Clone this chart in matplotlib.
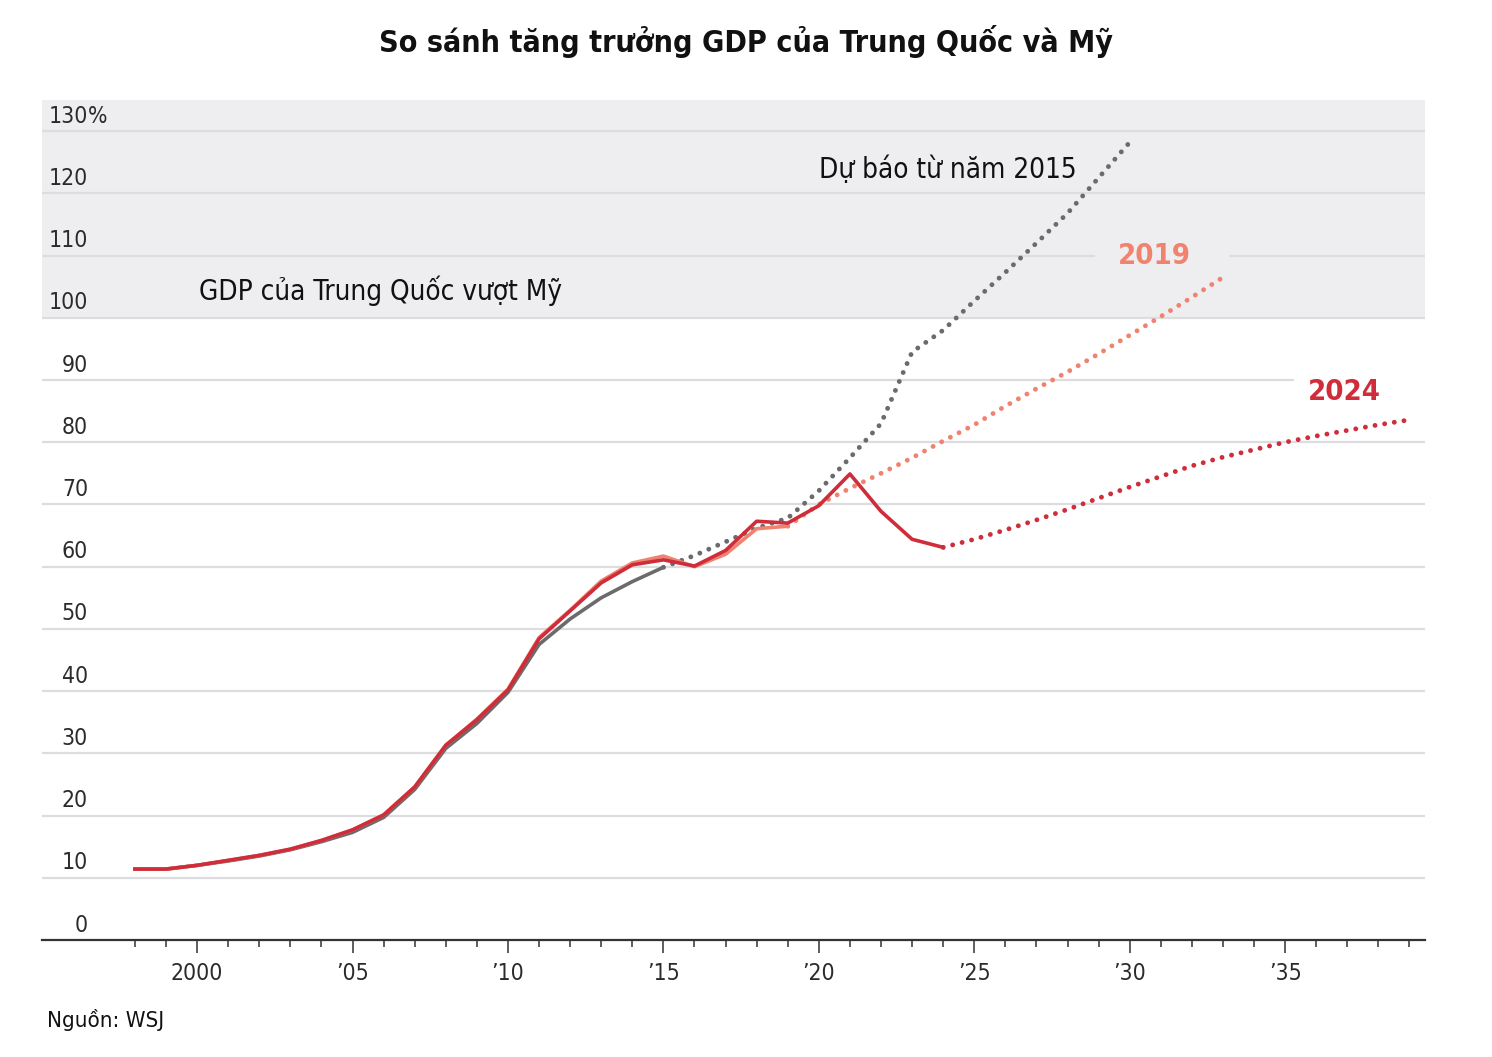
import matplotlib
matplotlib.use("Agg")
import matplotlib.pyplot as plt
from matplotlib.patches import Rectangle
from matplotlib.ticker import FixedLocator

# ---------------- data ----------------
hist_years_2015 = list(range(1998, 2016))
hist_2015 = [11.4, 11.4, 12.0, 12.7, 13.5, 14.5, 15.8, 17.3, 19.7, 24.2, 30.8, 34.8, 39.8,
             47.5, 51.6, 55.0, 57.6, 59.9]
fc_years_2015 = list(range(2015, 2031))
fc_2015 = [59.9, 61.8, 64.0, 66.2, 67.8, 72.2, 77.5, 83.0, 94.5, 98.0, 102.7, 107.3,
           112.0, 116.8, 122.5, 128.2]

hist_years_2019 = list(range(1998, 2020))
hist_2019 = [11.4, 11.4, 12.0, 12.8, 13.6, 14.6, 16.0, 17.7, 20.1, 24.6, 31.3, 35.5, 40.3,
             48.6, 53.0, 57.7, 60.6, 61.7, 60.0, 62.0, 66.1, 66.5]
fc_years_2019 = list(range(2019, 2034))
fc_2019 = [66.5, 70.0, 72.6, 75.0, 77.5, 80.2, 82.8, 85.8, 88.6, 91.3, 94.2, 97.2,
           100.2, 103.3, 106.5]

hist_years_2024 = list(range(1998, 2025))
hist_2024 = [11.4, 11.4, 12.0, 12.8, 13.6, 14.6, 16.0, 17.7, 20.1, 24.6, 31.3, 35.4, 40.2,
             48.4, 52.9, 57.4, 60.3, 61.1, 60.1, 62.6, 67.3, 67.0, 69.8, 74.9, 68.9, 64.4, 63.1]
fc_years_2024 = list(range(2024, 2040))
fc_2024 = [63.1, 64.4, 65.9, 67.5, 69.2, 71.0, 72.8, 74.5, 76.2, 77.6, 78.8, 80.0,
           81.0, 81.9, 82.8, 83.6]

y_ticks = [0, 10, 20, 30, 40, 50, 60, 70, 80, 90, 100, 110, 120, 130]
x_major = [2000, 2005, 2010, 2015, 2020, 2025, 2030, 2035]
x_labels = ["2000", "\u201905", "\u201910", "\u201915", "\u201920", "\u201925", "\u201930", "\u201935"]

title = "So sánh tăng trưởng GDP của Trung Quốc và Mỹ"
note_cross = "GDP của Trung Quốc vượt Mỹ"
note_2015 = "Dự báo từ năm 2015"
source = "Nguồn: WSJ"

# ---------------- style ----------------
FAM = ["DejaVu Sans"]
STRETCH = "condensed"
GRAY = "#6b6b6b"
SALMON = "#f0836f"
RED = "#cf2d3a"
BAND = "#eeeef0"
GRID = "#dddddf"
TXT = "#2b2b2b"

W, H = 1492, 1057
fig = plt.figure(figsize=(W / 100, H / 100), dpi=100)
fig.patch.set_facecolor("white")
ax = fig.add_axes([42 / W, 1 - 940 / H, (1425 - 42) / W, 840 / H])
ax.set_xlim(1995.01, 2039.5)
ax.set_ylim(0, 135.0)
ax.set_facecolor("white")

ax.axhspan(100, 135, color=BAND, zorder=0, lw=0)
for v in y_ticks[1:]:
    ax.axhline(v, color=GRID, lw=1.6, zorder=1)

# label boxes interrupting gridlines
ax.add_patch(Rectangle((2028.9, 108.0), 2033.2 - 2028.9, 4.0, facecolor=BAND,
                       edgecolor="none", zorder=1.5))
ax.add_patch(Rectangle((2035.3, 88.0), 2039.5 - 2035.3, 4.0, facecolor="white",
                       edgecolor="none", zorder=1.5, clip_on=False))

lw = 2.6
dot_lw = 3.5
dots = (0, (0.01, 2.0))
ax.plot(hist_years_2015, hist_2015, color=GRAY, lw=lw, zorder=3, solid_joinstyle="round")
ax.plot(fc_years_2015, fc_2015, color=GRAY, lw=dot_lw, ls=dots, dash_capstyle="round",
        zorder=3)
ax.plot(hist_years_2019, hist_2019, color=SALMON, lw=lw, zorder=4, solid_joinstyle="round")
ax.plot(fc_years_2019, fc_2019, color=SALMON, lw=dot_lw, ls=dots, dash_capstyle="round",
        zorder=4)
ax.plot(hist_years_2024, hist_2024, color=RED, lw=lw, zorder=5, solid_joinstyle="round")
ax.plot(fc_years_2024, fc_2024, color=RED, lw=dot_lw, ls=dots, dash_capstyle="round",
        zorder=5)

# axes styling
for s in ["top", "right", "left"]:
    ax.spines[s].set_visible(False)
ax.spines["bottom"].set_color("#333333")
ax.spines["bottom"].set_linewidth(1.6)
ax.spines["bottom"].set_zorder(6)
ax.set_yticks([])
ax.xaxis.set_major_locator(FixedLocator(x_major))
ax.xaxis.set_minor_locator(FixedLocator([y for y in range(1998, 2040) if y not in x_major]))
ax.set_xticklabels(x_labels)
ax.tick_params(axis="x", which="major", length=9.5, width=1.1, color="#333333",
               pad=6, labelsize=16.5, labelcolor=TXT)
ax.tick_params(axis="x", which="minor", length=5, width=1.1, color="#333333")
for t in ax.get_xticklabels():
    t.set_family(FAM)
    t.set_stretch(STRETCH)

# y labels (above gridlines, right aligned)
xlab = 1996.49
for v in y_ticks:
    ax.text(xlab, v + 0.55, str(v), ha="right", va="bottom", fontsize=16.5, color=TXT,
            family=FAM, stretch=STRETCH, zorder=6)
ax.text(xlab, 130 + 0.55, "%", ha="left", va="bottom", fontsize=16.5, color=TXT,
        family=FAM, stretch=STRETCH, zorder=6)

# annotations
ax.text(2000.05, 102.9, note_cross, ha="left", va="baseline", fontsize=20, color="#111111",
        family=FAM, stretch=STRETCH, zorder=6)
ax.text(2028.3, 122.4, note_2015, ha="right", va="baseline", fontsize=20, color="#111111",
        family=FAM, stretch=STRETCH, zorder=6)
ax.text(2030.8, 110.0, "2019", ha="center", va="center", fontsize=21, color=SALMON,
        fontweight="bold", family=FAM, stretch=STRETCH, zorder=6)
ax.text(2036.9, 88.0, "2024", ha="center", va="center", fontsize=21, color=RED,
        fontweight="bold", family=FAM, stretch=STRETCH, zorder=6)

fig.text(0.5, 1 - 42 / H, title, ha="center", va="center", fontsize=21.8, fontweight="bold",
         color="#111111", family=FAM, stretch=STRETCH)
fig.text(47 / W, 1 - 1020 / H, source, ha="left", va="center", fontsize=16, color="#111111",
         family=FAM, stretch=STRETCH)

fig.savefig("out.png", dpi=100, facecolor="white")
